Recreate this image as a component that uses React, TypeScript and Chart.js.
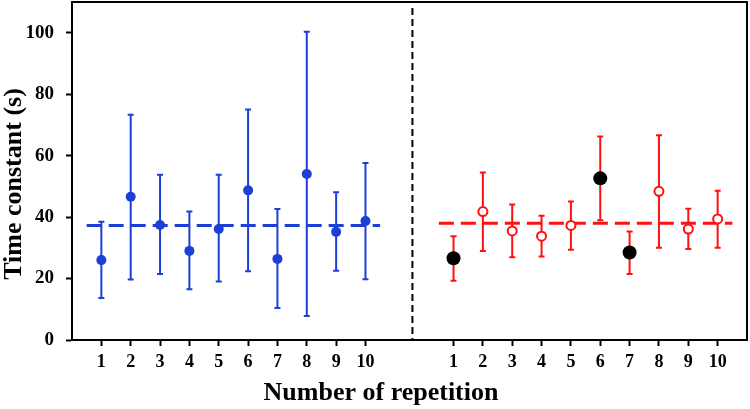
import React, { useEffect, useRef } from "react";
import { Chart, registerables } from "chart.js";

Chart.register(...registerables);

// Repetition labels (shown under both groups)
const repLabels = ["1", "2", "3", "4", "5", "6", "7", "8", "9", "10"];
// x positions of group 1 (blue) and group 2 (red)
const blueX = [1, 2, 3, 4, 5, 6, 7, 8, 9, 10];
const redX = [13, 14, 15, 16, 17, 18, 19, 20, 21, 22];
const dividerX = 11.6;

// Blue group
const blueMean = [26.0, 46.6, 37.4, 29.0, 36.1, 48.7, 26.4, 54.0, 35.2, 38.7];
const blueUpper = [38.5, 73.3, 53.8, 41.8, 53.8, 75.0, 42.6, 100.3, 48.1, 57.6];
const blueLower = [13.7, 19.7, 21.5, 16.5, 19.0, 22.4, 10.4, 7.8, 22.5, 19.8];
const blueAverage = 37.3;

// Red group
const redMean = [26.6, 41.8, 35.5, 33.8, 37.3, 52.6, 28.5, 48.4, 36.1, 39.4];
const redUpper = [33.8, 54.5, 44.1, 40.4, 45.1, 66.2, 35.3, 66.6, 42.7, 48.6];
const redLower = [19.3, 29.0, 26.9, 27.2, 29.4, 39.0, 21.5, 30.0, 29.6, 30.0];
const redFilled = [true, false, false, false, false, true, true, false, false, false];
const redAverage = 38.0;

const yTicks = [0, 20, 40, 60, 80, 100];

const BLUE = "#1c3fd6";
const RED = "#ff1010";
const FONT = '"Liberation Serif", "Times New Roman", serif';

export default function App() {
  const ref = useRef<HTMLCanvasElement | null>(null);

  useEffect(() => {
    const canvas = ref.current;
    if (!canvas) return;

    const errorBars = {
      id: "errorBars",
      beforeDatasetsDraw(chart: any) {
        const ctx = chart.ctx;
        const xs = chart.scales.x;
        const ys = chart.scales.y;
        const draw = (xv: number[], lo: number[], hi: number[], color: string) => {
          ctx.save();
          ctx.strokeStyle = color;
          ctx.lineWidth = 2;
          for (let i = 0; i < xv.length; i++) {
            const px = xs.getPixelForValue(xv[i]);
            const y1 = ys.getPixelForValue(lo[i]);
            const y2 = ys.getPixelForValue(hi[i]);
            ctx.beginPath();
            ctx.moveTo(px, y1);
            ctx.lineTo(px, y2);
            ctx.moveTo(px - 3, y1);
            ctx.lineTo(px + 3, y1);
            ctx.moveTo(px - 3, y2);
            ctx.lineTo(px + 3, y2);
            ctx.stroke();
          }
          ctx.restore();
        };
        draw(blueX, blueLower, blueUpper, BLUE);
        draw(redX, redLower, redUpper, RED);
        // divider
        const dx = xs.getPixelForValue(dividerX);
        ctx.save();
        ctx.strokeStyle = "#000";
        ctx.lineWidth = 2;
        ctx.setLineDash([7, 4]);
        ctx.beginPath();
        ctx.moveTo(dx, chart.chartArea.top + 6);
        ctx.lineTo(dx, chart.chartArea.bottom);
        ctx.stroke();
        ctx.restore();
      },
      afterDraw(chart: any) {
        const ctx = chart.ctx;
        const a = chart.chartArea;
        ctx.save();
        ctx.strokeStyle = "#000";
        ctx.lineWidth = 2;
        ctx.strokeRect(a.left, a.top, a.right - a.left, a.bottom - a.top);
        ctx.fillStyle = "#000";
        ctx.font = `bold 26px ${FONT}`;
        ctx.textAlign = "center";
        ctx.textBaseline = "alphabetic";
        ctx.fillText("Number of repetition", 381, 400);
        ctx.translate(21, 184);
        ctx.rotate(-Math.PI / 2);
        ctx.fillText("Time constant (s)", 0, 0);
        ctx.restore();
      },
    };

    const chart = new Chart(canvas, {
      type: "scatter",
      data: {
        datasets: [
          {
            type: "line",
            data: [
              { x: 0.5, y: blueAverage },
              { x: 10.5, y: blueAverage },
            ],
            borderColor: BLUE,
            borderWidth: 3,
            borderDash: [15, 7],
            pointRadius: 0,
            order: 3,
          } as any,
          {
            type: "line",
            data: [
              { x: 12.5, y: redAverage },
              { x: 22.5, y: redAverage },
            ],
            borderColor: RED,
            borderWidth: 3,
            borderDash: [15, 7],
            pointRadius: 0,
            order: 3,
          } as any,
          {
            data: blueX.map((x, i) => ({ x, y: blueMean[i] })),
            backgroundColor: BLUE,
            borderColor: BLUE,
            pointRadius: 5,
            borderWidth: 0,
            order: 1,
          },
          {
            data: redX.map((x, i) => ({ x, y: redMean[i] })),
            backgroundColor: redFilled.map((f) => (f ? "#000" : "#fff")),
            borderColor: redFilled.map((f) => (f ? "#000" : RED)),
            pointRadius: redFilled.map((f) => (f ? 7 : 4.5)),
            borderWidth: redFilled.map((f) => (f ? 0 : 2)),
            order: 0,
          } as any,
        ],
      },
      options: {
        animation: false,
        responsive: false,
        devicePixelRatio: 1,
        layout: { autoPadding: false, padding: { top: 2, right: 3, left: 0, bottom: 0 } },
        plugins: { legend: { display: false }, tooltip: { enabled: false } },
        scales: {
          x: {
            type: "linear",
            min: 0,
            max: 23,
            afterBuildTicks(scale: any) {
              scale.ticks = [...blueX, ...redX].map((v) => ({ value: v }));
            },
            afterFit(scale: any) {
              scale.height = 69;
              scale.paddingLeft = 0;
              scale.paddingRight = 0;
            },
            ticks: {
              autoSkip: false,
              maxRotation: 0,
              padding: 6,
              color: "#000",
              font: { family: FONT, size: 18, weight: "bold" },
              callback: (v: any) => {
                const n = Number(v);
                const idx = n > 12 ? n - 13 : n - 1;
                return repLabels[idx] ?? "";
              },
            },
            grid: {
              drawOnChartArea: false,
              drawTicks: true,
              tickLength: 6,
              tickWidth: 2,
              tickColor: "#000",
            },
            border: { color: "#000", width: 2 },
          },
          y: {
            min: 0,
            max: 110,
            afterBuildTicks(scale: any) {
              scale.ticks = yTicks.map((v) => ({ value: v }));
            },
            afterFit(scale: any) {
              scale.width = 72;
              scale.paddingTop = 0;
              scale.paddingBottom = 0;
            },
            ticks: {
              padding: 12,
              color: "#000",
              font: { family: FONT, size: 19, weight: "bold" },
            },
            grid: {
              drawOnChartArea: false,
              drawTicks: true,
              tickLength: 6,
              tickWidth: 2,
              tickColor: "#000",
            },
            border: { color: "#000", width: 2 },
          },
        },
      },
      plugins: [errorBars],
    } as any);

    return () => chart.destroy();
  }, []);

  return (
    <div style={{ position: "absolute", left: 0, top: 0, width: 750, height: 409, background: "#fff" }}>
      <canvas ref={ref} width={750} height={409} style={{ width: 750, height: 409 }} />
    </div>
  );
}
